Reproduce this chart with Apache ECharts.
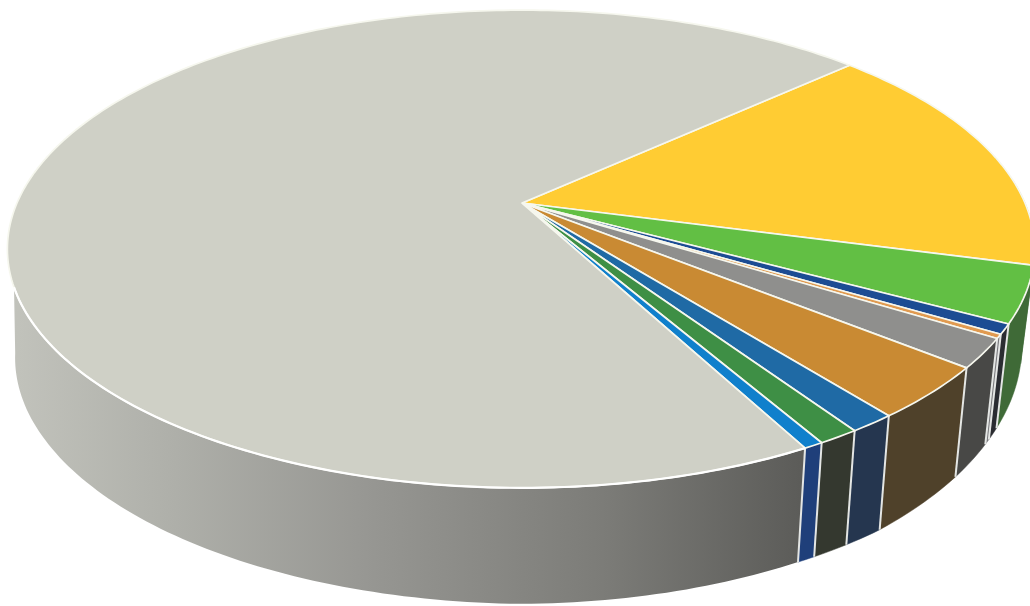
<!DOCTYPE html>
<html><head><meta charset="utf-8">
<style>html,body{margin:0;padding:0;background:#fff}#c{width:1030px;height:606px}</style>
<script src="https://cdn.jsdelivr.net/npm/echarts@6/dist/echarts.min.js"></script>
</head><body><div id="c"></div>
<script>
const categories = ['A','B','C','D','E','F','G','H','I','J'];
const values = [15.98, 3.78, 0.67, 0.28, 1.97, 3.53, 1.25, 1.11, 0.53, 70.9];
const topColors = ['#ffcc33','#62bf44','#1c4c93','#e09a50','#8f8f8d','#c98a33','#1f6aa5','#3e8f45','#1080cc','#cfd0c6'];
const wallColors = ['#3f6a37','#3f6a37','#2a2c31','#77777a','#484846','#4f412a','#25364f','#34382f','#1f3f7a','gray'];

const total = values.reduce((a, b) => a + b, 0);
const START = -42.6, CX = 522, CY = 203, KY = 230, P = 0.1925;
const DEPTH_ANGLES = [14, 28, 39, 52, 62, 90, 150, 180];
const DEPTHS = [98, 104, 109, 114, 114, 116, 110, 108];
const rad = d => d * Math.PI / 180;
function topPt(deg) {
  const u = Math.cos(rad(deg)), v = Math.sin(rad(deg)), w = 1 - P * v;
  const K = u > 0 ? 503 : 505;
  return [CX + K * u / w, CY + KY * v / w];
}
function depth(deg) {
  if (deg <= DEPTH_ANGLES[0]) return DEPTHS[0];
  for (let i = 1; i < DEPTH_ANGLES.length; i++) {
    if (deg <= DEPTH_ANGLES[i]) {
      const t = (deg - DEPTH_ANGLES[i - 1]) / (DEPTH_ANGLES[i] - DEPTH_ANGLES[i - 1]);
      return DEPTHS[i - 1] + t * (DEPTHS[i] - DEPTHS[i - 1]);
    }
  }
  return DEPTHS[DEPTHS.length - 1];
}
function botPt(deg) {
  const p = topPt(deg);
  const sx = p[0] > CX ? 0.975 : 0.985;
  return [CX + (p[0] - CX) * sx, p[1] + depth(deg)];
}
function arc(fn, a, b) {
  const n = Math.max(2, Math.ceil(Math.abs(b - a))), out = [];
  for (let i = 0; i <= n; i++) out.push(fn(a + (b - a) * i / n));
  return out;
}
function bounds(i) {
  let s = 0;
  for (let k = 0; k < i; k++) s += values[k];
  return [START + s / total * 360, START + (s + values[i]) / total * 360];
}
const grayWall = {
  type: 'linear', global: true, x: 10, y: 0, x2: 800, y2: 0,
  colorStops: [
    { offset: 0, color: '#c2c3bc' }, { offset: 0.2, color: '#afb0aa' },
    { offset: 0.45, color: '#979793' }, { offset: 0.75, color: '#7c7c78' },
    { offset: 1, color: '#5c5c59' }
  ]
};
function renderWall(params, api) {
  const i = api.value(0);
  const [a0, a1] = bounds(i);
  const from = Math.max(a0, -6), to = Math.min(a1, 160), botTo = a1 > 160 ? 170 : to;
  const pts = arc(topPt, from, to).concat(arc(botPt, botTo, from));
  const wc = wallColors[i];
  const children = [{
    type: 'polygon', shape: { points: pts },
    style: { fill: wc === 'gray' ? grayWall : wc, stroke: wc === 'gray' ? null : wc, lineWidth: 0.5 }
  }];
  if (a0 > 20 && a0 < 160) {
    children.push({
      type: 'line',
      shape: { x1: topPt(a0)[0], y1: topPt(a0)[1], x2: botPt(a0)[0], y2: botPt(a0)[1] },
      style: { stroke: '#e4e6e4', lineWidth: 2 }
    });
  }
  return { type: 'group', children };
}
function renderTop(params, api) {
  const i = api.value(0);
  const [a0, a1] = bounds(i);
  const pts = [[CX, CY]].concat(arc(topPt, a0, a1));
  const children = [{
    type: 'polygon', shape: { points: pts },
    style: { fill: topColors[i], stroke: '#f6f7ee', lineWidth: 1.7, lineJoin: 'round' }
  }];
  if (a1 > 160) {
    children.push({
      type: 'polyline', shape: { points: arc(topPt, a0, 160) },
      style: { fill: null, stroke: '#ffffff', lineWidth: 2.2 }
    });
  }
  return { type: 'group', children };
}
const rows = values.map((v, i) => ({ name: categories[i], value: [i, v] }));
const chart = echarts.init(document.getElementById('c'));
chart.setOption({
  backgroundColor: '#ffffff',
  animation: false,
  series: [
    { type: 'custom', coordinateSystem: 'none', renderItem: renderWall, data: rows, silent: true, z: 1 },
    { type: 'custom', coordinateSystem: 'none', renderItem: renderTop, data: rows, silent: true, z: 2 }
  ]
});
</script></body></html>
